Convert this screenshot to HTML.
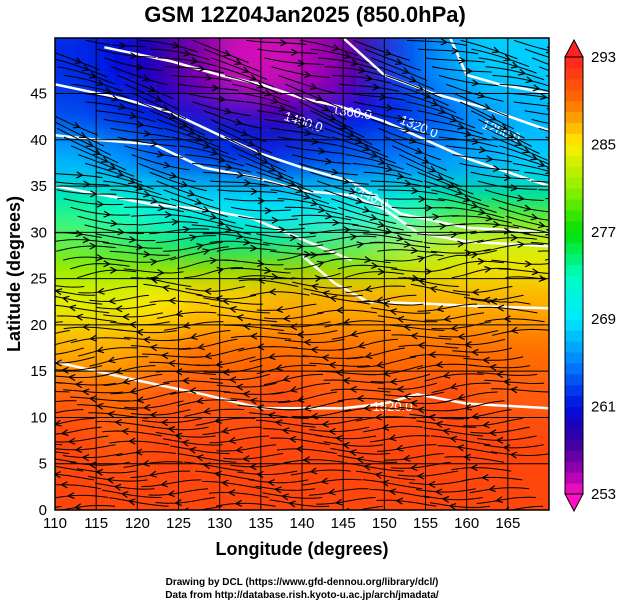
<!DOCTYPE html>
<html><head><meta charset="utf-8"><style>
html,body{margin:0;padding:0;background:#fff;width:619px;height:605px;overflow:hidden}
text{font-family:"Liberation Sans",sans-serif}
</style></head><body>
<svg id="svg" width="619" height="605" xmlns="http://www.w3.org/2000/svg">
<defs>
<clipPath id="pc"><rect x="55" y="38" width="494" height="472"/></clipPath>
<filter id="bl" x="-10%" y="-10%" width="120%" height="120%"><feGaussianBlur stdDeviation="16"/></filter>
</defs>
<text x="305" y="22" text-anchor="middle" font-size="22" font-weight="bold">GSM 12Z04Jan2025 (850.0hPa)</text>
<g id="field" clip-path="url(#pc)"><g id="cells" filter="url(#bl)"></g></g>
<g id="contours" clip-path="url(#pc)"></g>
<g id="stream" clip-path="url(#pc)"></g>
<g id="grid"></g>
<rect x="55" y="38" width="494" height="472" fill="none" stroke="#000" stroke-width="1.5"/>
<g id="xt"></g>
<g id="yt"></g>
<text x="302" y="555" text-anchor="middle" font-size="18" font-weight="bold">Longitude (degrees)</text>
<text transform="translate(20,274) rotate(-90)" text-anchor="middle" font-size="18" font-weight="bold">Latitude  (degrees)</text>
<g id="cbar"></g>
<text x="302" y="585" text-anchor="middle" font-size="10" font-weight="bold">Drawing by DCL (https://www.gfd-dennou.org/library/dcl/)</text>
<text x="302" y="598" text-anchor="middle" font-size="10" font-weight="bold">Data from http://database.rish.kyoto-u.ac.jp/arch/jmadata/</text>
</svg>
<script>
const lonCenters=[112.5,117.5,122.5,127.5,132.5,137.5,142.5,147.5,152.5,157.5,162.5,167.5];
const latCenters=[47.5,42.5,37.5,32.5,27.5,22.5,17.5,12.5,7.5,2.5];
const tRow0=[262,261,259,256,254,254,255,258,263,266,268,268];
const tRow1=[263,262,261,260,260,259,260,261,262,264,266,267];
const tRow2=[267,266,264,263,262,262,263,264,265,266,267,268];
const tRow3=[274,273,271,270,269,269,270,271,273,275,276,276];
const tRow4=[280,279,278,277,277,278,279,280,282,283,284,284];
const tRow5=[284,284,285,286,286,287,287,287,287,287,287,287];
const tRow6=[287,287,288,289,289,289,289,289,289,289,289,289];
const tRow7=[290,289,290,290,290,291,290,290,290,291,290,290];
const tRow8=[291,290,291,291,291,291,291,291,291,291,291,291];
const tRow9=[291,291,291,291,291,291,291,291,291,291,291,291];
const tRows=[tRow0,tRow1,tRow2,tRow3,tRow4,tRow5,tRow6,tRow7,tRow8,tRow9];
const windDir=[-12,-18,-15,-8,5,180,185,185,180,180];
const xTicks=[110,115,120,125,130,135,140,145,150,155,160,165];
const yTicks=[0,5,10,15,20,25,30,35,40,45];
const cbLabels=[293,285,277,269,261,253];
const contour0=[[110,46],[118,44.5],[124,43],[130,40.5],[135,38.5],[140,37],[146,35.5],[152,32],[160,30.5],[170,30]];
const contour1=[[110,40.5],[115,40],[122,39.5],[128,37],[134,36],[140,34.5],[146,34],[150,32.5],[154,30],[160,29],[170,28.5]];
const contour2=[[116,50],[124,48.5],[130,47],[135,46],[140,44.5],[145,43.5],[150,42],[155,40],[160,38],[170,35]];
const contour3=[[145,51],[150,47],[156,45],[162,43.5],[170,41]];
const contour4=[[158,51],[160,47],[164,46],[170,45]];
const contour5=[[110,16],[120,14],[128,12.5],[135,11],[140,11],[145,11],[150,11.5],[154,12.5],[160,11.5],[170,11]];
const contour6=[[110,35],[116,34],[122,33],[128,32.5],[134,31.5],[138,30],[142,28.5],[146,27]];
const contour7=[[140,27.5],[144,24.5],[148,22.5],[155,22.3],[162,22],[170,21.8]];
const contours=[contour0,contour1,contour2,contour3,contour4,contour5,contour6,contour7];
const X0=55,X1=549,Y0=510,Y1=38,LAT1=51;
const xs=l=>X0+(l-110)/60*(X1-X0);
const ys=a=>Y0-a/LAT1*(Y0-Y1);
const stops=[[253,[255,16,192]],[255,[160,0,176]],[257,[80,0,160]],[259,[32,0,176]],[261,[0,16,224]],[265,[0,128,255]],[269,[0,232,255]],[273,[0,255,192]],[277,[0,224,0]],[281,[144,240,0]],[285,[255,238,0]],[289,[255,110,0]],[293,[255,32,32]]];
function col(t){t=Math.max(253,Math.min(293,t));for(let i=0;i<stops.length-1;i++){const a=stops[i],b=stops[i+1];if(t<=b[0]){const f=(t-a[0])/(b[0]-a[0]);return 'rgb('+a[1].map((v,k)=>Math.round(v+(b[1][k]-v)*f)).join(',')+')';}}return 'rgb(255,32,32)';}
const NS='http://www.w3.org/2000/svg';
function mk(tag,at,p){const e=document.createElementNS(NS,tag);for(const k in at)e.setAttribute(k,at[k]);p.appendChild(e);return e;}
const cells=document.getElementById('cells');
tRows.forEach((row,r)=>row.forEach((t,c)=>{
 const x=xs(lonCenters[c]-2.5),y=ys(latCenters[r]+2.5);
 const e=mk('rect',{x:x-(c==0?40:0),y:y-(r==0?40:0),width:xs(lonCenters[c]+2.5)-x+1+(c==0||c==11?40:0),height:ys(latCenters[r]-2.5)-y+1+(r==0||r==9?40:0),fill:col(t)},cells);
 
 
}));
const cg=document.getElementById('contours');
contours.forEach((pts,i)=>{
 const d=pts.map((p,j)=>(j?'L':'M')+xs(p[0]).toFixed(1)+','+ys(p[1]).toFixed(1)).join(' ');
 const e=mk('path',{d:d,fill:'none',stroke:'#fff','stroke-width':2.5,'stroke-linejoin':'round'},cg);
 
 
});
const lbl=[["1400.0",140,41.5,18],["1360.0",146,42.5,8],["1320.0",154,41,22],["1280.0",164,40.5,22],["1440.0",148,33.5,25],["1520.0",151,10.7,0]];
lbl.forEach(l=>{const e=mk('text',{x:xs(l[1]),y:ys(l[2]),fill:'#fff','font-size':13,'text-anchor':'middle',transform:'rotate('+l[3]+' '+xs(l[1])+' '+ys(l[2])+')'},cg);e.textContent=l[0];
 
 });
function dirAt(lat,lon){
 let i=(47.5-lat)/5;i=Math.max(0,Math.min(latCenters.length-1.001,i));
 const i0=Math.floor(i),f=i-i0;
 let a=windDir[i0],b=windDir[i0+1];
 if(Math.abs(b-a)>90){return (f<0.5?a:b)+Math.sin(lon*0.4+lat)*12;}
 return a+(b-a)*f+Math.sin(lon*0.35+lat*0.7)*10;
}
const sg=document.getElementById('stream');
for(let la=0.4;la<51;la+=0.95){
 for(let lo0=108+((la*37)%6);lo0<171;lo0+=6.5){
  let x=xs(lo0),y=ys(la),pts=[[x,y]];
  for(let s=0;s<12;s++){
   const lon=110+(x-X0)/(X1-X0)*60,lat=(Y0-y)/(Y0-Y1)*LAT1;
   const a=dirAt(lat,lon)*Math.PI/180;
   x+=Math.cos(a)*5;y-=Math.sin(a)*5;pts.push([x,y]);
  }
  const e=mk('polyline',{points:pts.map(p=>p[0].toFixed(1)+','+p[1].toFixed(1)).join(' '),fill:'none',stroke:'#000','stroke-width':1},sg);
  
  
  const p1=pts[8],p0=pts[7];const dx=p1[0]-p0[0],dy=p1[1]-p0[1],L=Math.hypot(dx,dy)||1,ux=dx/L,uy=dy/L;
  const h=mk('path',{d:'M'+(p1[0]-ux*6-uy*3).toFixed(1)+','+(p1[1]-uy*6+ux*3).toFixed(1)+' L'+p1[0].toFixed(1)+','+p1[1].toFixed(1)+' L'+(p1[0]-ux*6+uy*3).toFixed(1)+','+(p1[1]-uy*6-ux*3).toFixed(1),fill:'none',stroke:'#000','stroke-width':1.2},sg);
  
  
 }
}
const gg=document.getElementById('grid'),xt=document.getElementById('xt'),yt=document.getElementById('yt');
xTicks.forEach(v=>{const x=xs(v);
 if(v>110){const g=mk('line',{x1:x,y1:Y1,x2:x,y2:Y0,stroke:'#000','stroke-width':1},gg);}
 const t=mk('text',{x:x,y:528,'text-anchor':'middle','font-size':15},xt);t.textContent=v;
 
 });
yTicks.forEach(v=>{const y=ys(v);
 if(v>0){const g=mk('line',{x1:X0,y1:y,x2:X1,y2:y,stroke:'#000','stroke-width':1},gg);}
 const t=mk('text',{x:47,y:y+5,'text-anchor':'end','font-size':15},yt);t.textContent=v;
 
 });
const cbg=document.getElementById('cbar');
const CB0=494,CB1=57;
const cy=t=>CB0-(t-253)/40*(CB0-CB1);
for(let t=253;t<293;t+=1){
 const e=mk('rect',{x:565,y:cy(t+1),width:18,height:cy(t)-cy(t+1)+0.5,fill:col(t+0.5)},cbg);
 
 
}
let tu=mk('path',{d:'M565,57 L574,40 L583,57 Z',fill:col(293),stroke:'#000','stroke-width':1},cbg);

let td=mk('path',{d:'M565,494 L574,511 L583,494 Z',fill:col(253),stroke:'#000','stroke-width':1},cbg);

mk('rect',{x:565,y:57,width:18,height:437,fill:'none',stroke:'#000','stroke-width':1},cbg);
cbLabels.forEach(v=>{const t=mk('text',{x:591,y:cy(v)+5,'font-size':15},cbg);t.textContent=v;
 
 });
</script>
</body></html>
